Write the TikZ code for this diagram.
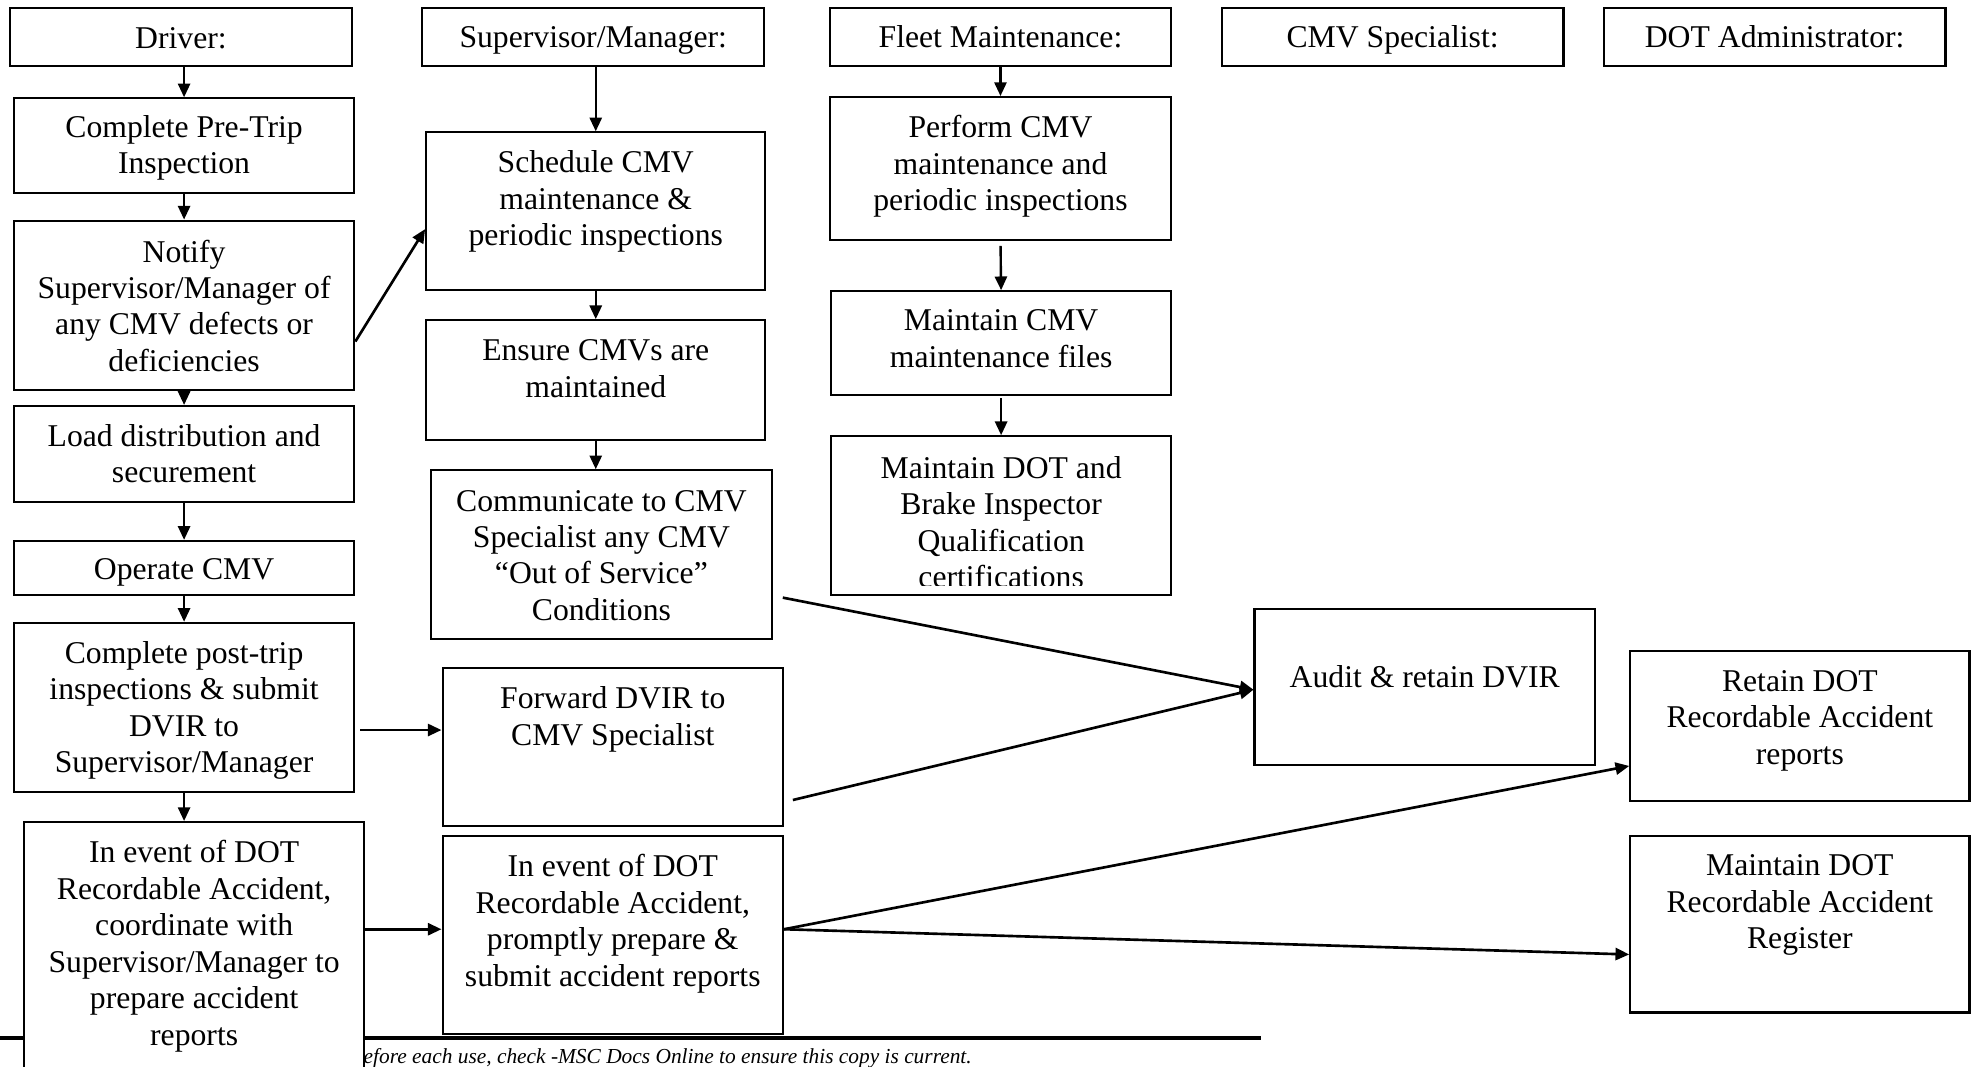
\documentclass[tikz,border=0pt]{standalone}
\usepackage{fontspec}
\setmainfont{Liberation Serif}
\usetikzlibrary{arrows.meta,fit,calc}

\begin{document}
\begin{tikzpicture}[x=0.4776pt,y=-0.4776pt,
        box/.style={draw,line width=0.8pt,fill=white,inner sep=0pt},
        txt/.style={align=center,inner sep=0pt,font=\fontsize{12}{13.8}\selectfont},
        arr/.style={-{Triangle[length=5.2pt,width=4.6pt]},line width=0.9pt},
        note/.style={inner sep=0pt,anchor=west,font=\fontsize{8.1}{9}\selectfont\itshape}]
    \useasboundingbox (0,0) rectangle (1568,845.5);

    % footer rule, it runs under the last driver box
    \coordinate (rule-l) at (0,823);
    \coordinate (rule-r) at (1000,823);
    \draw[line width=1.5pt] (rule-l) -- (rule-r);
    \node[note] (foot) at (288,839.5) {efore each use, check -MSC Docs Online to ensure this copy is current.};

    % headers
    \node[box,fit={(8,6)(279,52)}] (driver) {};
    \node[txt] (driver-t) at (143.5,30) {Driver:};
    \node[box,fit={(335,6)(606,52)}] (super) {};
    \node[txt] (super-t) at (470.5,32) {Supervisor/Manager:};
    \node[box,fit={(658,6)(929,52)}] (fleet) {};
    \node[txt] (fleet-t) at (793.5,29) {Fleet Maintenance:};
    \node[box,fit={(969,6)(1240,52)}] (cmvspec) {};
    \node[txt] (cmvspec-t) at (1104.5,32) {CMV Specialist:};
    \node[box,fit={(1272,6)(1543,52)}] (dotadm) {};
    \node[txt] (dotadm-t) at (1407.5,29.5) {DOT Administrator:};

    % driver
    \node[box,fit={(11,78)(281,153)}] (pretrip) {};
    \node[txt] (pretrip-t) at (146,117.5) {Complete Pre-Trip\\Inspection};
    \node[box,fit={(11,175)(281,309)}] (notify) {};
    \node[txt] (notify-t) at (146,242.5) {Notify\\Supervisor/Manager of\\any CMV defects or\\deficiencies};
    \node[box,fit={(11,322)(281,398)}] (load) {};
    \node[txt] (load-t) at (146,360) {Load distribution and\\securement};
    \node[box,fit={(11,429)(281,472)}] (operate) {};
    \node[txt] (operate-t) at (146,454) {Operate CMV};
    \node[box,fit={(11,494)(281,628)}] (post) {};
    \node[txt] (post-t) at (146,563.5) {Complete post-trip\\inspections \& submit\\DVIR to\\Supervisor/Manager};
    \node[box,fit={(19,652)(289,850)}] (event) {};
    \node[txt] (event-t) at (154,750.5) {In event of DOT\\Recordable Accident,\\coordinate with\\Supervisor/Manager to\\prepare accident\\reports};

    % supervisor / manager
    \node[box,fit={(338,105)(607,230)}] (sched) {};
    \node[txt] (sched-t) at (472.5,160) {Schedule CMV\\maintenance \&\\periodic inspections};
    \node[box,fit={(338,254)(607,349)}] (ensure) {};
    \node[txt] (ensure-t) at (472.5,292.5) {Ensure CMVs are\\maintained};
    \node[box,fit={(342,373)(612,507)}] (comm) {};
    \node[txt] (comm-t) at (477,440.5) {Communicate to CMV\\Specialist any CMV\\“Out of Service”\\Conditions};
    \node[box,fit={(351,530)(621,655)}] (fwd) {};
    \node[txt] (fwd-t) at (486,570.5) {Forward DVIR to\\CMV Specialist};
    \node[box,fit={(351,663)(621,820)}] (event2) {};
    \node[txt] (event2-t) at (486,732.5) {In event of DOT\\Recordable Accident,\\promptly prepare \&\\submit accident reports};

    % fleet maintenance
    \node[box,fit={(658,77)(929,190)}] (perform) {};
    \node[txt] (perform-t) at (793.5,132) {Perform CMV\\maintenance and\\periodic inspections};
    \node[box,fit={(659,231)(929,313)}] (files) {};
    \node[txt] (files-t) at (794,268.5) {Maintain CMV\\maintenance files};
    \node[box,fit={(659,346)(929,472)}] (quals) {};
    \begin{scope}
        \clip (659,346) rectangle (929,464.5);
        \node[txt] (quals-t) at (794,414) {Maintain DOT and\\Brake Inspector\\Qualification\\certifications};
    \end{scope}

    % cmv specialist and dot administrator
    \node[box,fit={(995,483)(1265,607)}] (audit) {};
    \node[txt] (audit-t) at (1130,537) {Audit \& retain DVIR};
    \node[box,fit={(1293,516)(1562,635)}] (retain) {};
    \node[txt] (retain-t) at (1427.5,571.5) {Retain DOT\\Recordable Accident\\reports};
    \node[box,fit={(1293,663)(1562,803)}] (register) {};
    \node[txt] (register-t) at (1427.5,718) {Maintain DOT\\Recordable Accident\\Register};

    % arrows down the columns
    \draw[arr] (pretrip.north |- driver.south) -- (pretrip.north);
    \draw[arr] (pretrip.south) -- (notify.north);
    \draw[arr] (notify.south) -- (load.north);
    \draw[arr] (load.south) -- (operate.north);
    \draw[arr] (operate.south) -- (post.north);
    \draw[arr] (post.south) -- (post.south |- event.north);
    \draw[arr] (sched.north |- super.south) -- (sched.north);
    \draw[arr] (sched.south) -- (ensure.north);
    \draw[arr] (ensure.south) -- (ensure.south |- comm.north);
    \draw[arr] (perform.north |- fleet.south) -- (perform.north);
    \draw[arr,shorten <=2pt] (perform.south) -- (files.north);
    \draw[arr,shorten <=1pt] (files.south) -- (quals.north);

    % arrows across
    \draw[arr,line width=1pt] (notify.-12.5) -- (sched.186);
    \coordinate (post-out) at ($(post.east)+(4,18)$);
    \draw[arr,line width=1pt] (post-out) -- (post-out -| fwd.west);
    \coordinate (event2-in) at ($(event2.west)+(0,-4.5)$);
    \draw[arr,line width=1pt] (event2-in -| event.east) -- (event2-in);
    \draw[arr,line width=1pt] ($(comm.east)+(8,34)$) -- ($(audit.west)+(0,2)$);
    \draw[arr,line width=1pt] ($(fwd.east)+(7,42)$) -- ($(audit.west)+(0,2)$);
    \coordinate (event2-out) at ($(event2.east)+(0,-4.5)$);
    \draw[arr,line width=1pt] (event2-out) -- ($(retain.west)+(0,32)$);
    \draw[arr,line width=1pt] (event2-out) -- ($(register.west)+(0,24)$);
\end{tikzpicture}
\end{document}
